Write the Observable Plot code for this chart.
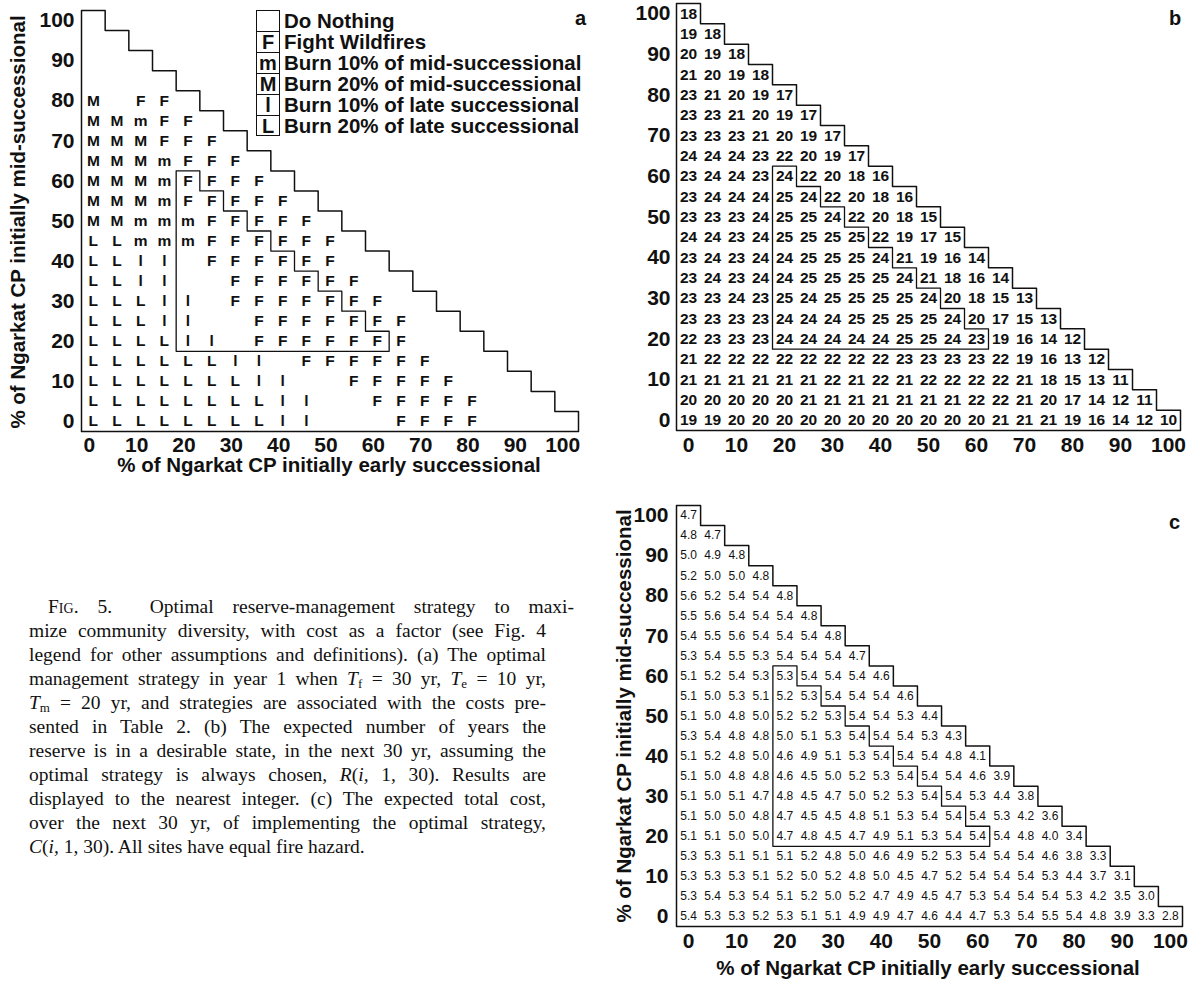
<!DOCTYPE html>
<html><head><meta charset="utf-8">
<script src="https://cdn.jsdelivr.net/npm/d3@7"></script>
<script src="https://cdn.jsdelivr.net/npm/@observablehq/plot@0.6"></script>
<style>
body{margin:0;background:#fff;}
#page{position:relative;width:1195px;height:984px;overflow:hidden;font-family:"Liberation Sans",Arial,Helvetica,sans-serif;color:#111;background:#fff;}
.abs{position:absolute;}
.title{font-weight:bold;font-size:20.5px;white-space:nowrap;line-height:22px;}
.plabel{font-weight:bold;font-size:20px;line-height:20px;}
.cap{font-family:"Liberation Serif","Times New Roman",serif;font-size:19.5px;line-height:24px;color:#111;}
.cap .ln{white-space:nowrap;}
.sub{font-size:13px;vertical-align:-3px;line-height:0;font-style:normal;}
.lgbox{position:absolute;border:1.4px solid #111;box-sizing:border-box;font-weight:bold;font-size:20px;text-align:center;}
.lgtext{position:absolute;font-weight:bold;font-size:20.5px;white-space:nowrap;line-height:21px;}
</style></head>
<body><div id="page"></div>
<script>
// ---------------- data ----------------
const xs = [0,5,10,15,20,25,30,35,40,45,50,55,60,65,70,75,80,85,90,95,100];
const ys = [100,95,90,85,80,75,70,65,60,55,50,45,40,35,30,25,20,15,10,5,0];
const tickValues = [0,10,20,30,40,50,60,70,80,90,100];
const total = 100;          // x + y <= total
const desirableLow = 20;    // desirable region: x >= 20, y >= 20
const desirableSum = 80;    // and x + y <= 80
const halfCell = 2.5;

const legendCodes = ["", "F", "m", "M", "l", "L"];
const legendLabels = ["Do Nothing", "Fight Wildfires", "Burn 10% of mid-successional",
  "Burn 20% of mid-successional", "Burn 10% of late successional", "Burn 20% of late successional"];

// Panel a: strategy, rows y = 100..0, columns x = 0..
const strategy = [
 [""],
 ["",""],
 ["","",""],
 ["","","",""],
 ["M","","F","F",""],
 ["M","M","m","F","F",""],
 ["M","M","M","F","F","F",""],
 ["M","M","M","m","F","F","F",""],
 ["M","M","M","m","F","F","F","F",""],
 ["M","M","M","m","F","F","F","F","F",""],
 ["M","M","m","m","m","F","F","F","F","F",""],
 ["L","L","m","m","m","F","F","F","F","F","F",""],
 ["L","L","l","l","","F","F","F","F","F","F","",""],
 ["L","L","l","l","","","F","F","F","F","F","F","",""],
 ["L","L","L","l","l","","F","F","F","F","F","F","F","",""],
 ["L","L","L","l","l","","","F","F","F","F","F","F","F","",""],
 ["L","L","L","L","l","l","","F","F","F","F","F","F","F","","",""],
 ["L","L","L","L","L","L","l","l","","F","F","F","F","F","F","","",""],
 ["L","L","L","L","L","L","L","l","l","","","F","F","F","F","F","","",""],
 ["L","L","L","L","L","L","L","L","l","l","","","F","F","F","F","F","","",""],
 ["L","L","L","L","L","L","L","L","l","l","","","","F","F","F","F","","","",""]
];

// Panel b: expected years in desirable state
const years = [
 [18],
 [19,18],
 [20,19,18],
 [21,20,19,18],
 [23,21,20,19,17],
 [23,23,21,20,19,17],
 [23,23,23,21,20,19,17],
 [24,24,24,23,22,20,19,17],
 [23,24,24,23,24,22,20,18,16],
 [23,24,24,24,25,24,22,20,18,16],
 [23,23,23,24,25,25,24,22,20,18,15],
 [24,24,23,24,25,25,25,25,22,19,17,15],
 [23,24,23,24,24,25,25,25,24,21,19,16,14],
 [23,24,23,24,24,25,25,25,25,24,21,18,16,14],
 [23,23,24,23,25,24,25,25,25,25,24,20,18,15,13],
 [23,23,23,23,24,24,24,25,25,25,25,24,20,17,15,13],
 [22,23,23,23,24,24,24,24,24,25,25,24,23,19,16,14,12],
 [21,22,22,22,22,22,22,22,22,23,23,23,23,22,19,16,13,12],
 [21,21,21,21,21,21,22,21,22,21,22,22,22,22,21,18,15,13,11],
 [20,20,20,20,20,21,21,21,21,21,21,21,22,22,21,20,17,14,12,11],
 [19,19,20,20,20,20,20,20,20,20,20,20,20,21,21,21,19,16,14,12,10]
];

// Panel c: expected total cost
const cost = [
 [4.7],
 [4.8,4.7],
 [5.0,4.9,4.8],
 [5.2,5.0,5.0,4.8],
 [5.6,5.2,5.4,5.4,4.8],
 [5.5,5.6,5.4,5.4,5.4,4.8],
 [5.4,5.5,5.6,5.4,5.4,5.4,4.8],
 [5.3,5.4,5.5,5.3,5.4,5.4,5.4,4.7],
 [5.1,5.2,5.4,5.3,5.3,5.4,5.4,5.4,4.6],
 [5.1,5.0,5.3,5.1,5.2,5.3,5.4,5.4,5.4,4.6],
 [5.1,5.0,4.8,5.0,5.2,5.2,5.3,5.4,5.4,5.3,4.4],
 [5.3,5.4,4.8,4.8,5.0,5.1,5.3,5.4,5.4,5.4,5.3,4.3],
 [5.1,5.2,4.8,5.0,4.6,4.9,5.1,5.3,5.4,5.4,5.4,4.8,4.1],
 [5.1,5.0,4.8,4.8,4.6,4.5,5.0,5.2,5.3,5.4,5.4,5.4,4.6,3.9],
 [5.1,5.0,5.1,4.7,4.8,4.5,4.7,5.0,5.2,5.3,5.4,5.4,5.3,4.4,3.8],
 [5.1,5.0,5.0,4.8,4.7,4.5,4.5,4.8,5.1,5.3,5.4,5.4,5.4,5.3,4.2,3.6],
 [5.1,5.1,5.0,5.0,4.7,4.8,4.5,4.7,4.9,5.1,5.3,5.4,5.4,5.4,4.8,4.0,3.4],
 [5.3,5.3,5.1,5.1,5.1,5.2,4.8,5.0,4.6,4.9,5.2,5.3,5.4,5.4,5.4,4.6,3.8,3.3],
 [5.3,5.3,5.3,5.1,5.2,5.0,5.2,4.8,5.0,4.5,4.7,5.2,5.4,5.4,5.4,5.3,4.4,3.7,3.1],
 [5.3,5.4,5.3,5.4,5.1,5.2,5.0,5.2,4.7,4.9,4.5,4.7,5.3,5.4,5.4,5.4,5.3,4.2,3.5,3.0],
 [5.4,5.3,5.3,5.2,5.3,5.1,5.1,4.9,4.9,4.7,4.6,4.4,4.7,5.3,5.4,5.5,5.4,4.8,3.9,3.3,2.8]
];

// ---------------- helpers ----------------
function cells(grid, fmt) {
  return grid.flatMap((row, i) => row.map((v, j) => ({x: xs[j], y: ys[i], t: fmt(v)})));
}
// staircase outline of region x >= lo, y >= lo, x + y <= sum
function staircase(lo, sum) {
  const pts = [{x: lo - halfCell, y: lo - halfCell}, {x: lo - halfCell, y: sum - lo + halfCell}];
  xs.filter(x => x >= lo && x <= sum - lo).forEach(x => {
    pts.push({x: x + halfCell, y: sum - x + halfCell});
    pts.push({x: x + halfCell, y: sum - x - halfCell});
  });
  pts.push({x: lo - halfCell, y: lo - halfCell});
  return pts;
}
const outer = staircase(0, total);
const inner = staircase(desirableLow, desirableSum);
const domain = [xs[0] - halfCell, xs[xs.length - 1] + halfCell];
const ydomain = [ys[ys.length - 1] - halfCell, ys[0] + halfCell];

function panel({width, height, ml, mr, mt, mb, data, fontSize, fontWeight, xdx, ypad, xpad}) {
  const svg = Plot.plot({
    width, height, marginLeft: ml, marginRight: mr, marginTop: mt, marginBottom: mb,
    style: "font-family:'Liberation Sans',Arial,sans-serif;font-size:21px;font-weight:bold;color:#111;background:transparent;overflow:visible;",
    x: {domain, ticks: tickValues},
    y: {domain: ydomain, ticks: tickValues},
    marks: [
      Plot.axisX({ticks: tickValues, tickSize: 0, tickPadding: xpad, label: null, dx: xdx}),
      Plot.axisY({ticks: tickValues, tickSize: 0, tickPadding: ypad, label: null}),
      Plot.line(outer, {x: "x", y: "y", stroke: "#111", strokeWidth: 1.5}),
      Plot.line(inner, {x: "x", y: "y", stroke: "#111", strokeWidth: 1.3}),
      Plot.text(data, {x: "x", y: "y", text: "t", fontSize, fontWeight, fill: "#111"})
    ]
  });
  svg.querySelectorAll('g[aria-label$="tick label"]').forEach(g => {
    g.setAttribute("font-size", "21");
    g.setAttribute("font-weight", "bold");
    g.style.fontSize = "21px";
    g.style.fontWeight = "bold";
    g.setAttribute("fill", "#111");
  });
  return svg;
}

const page = document.getElementById("page");
function place(el, left, top) {
  const d = document.createElement("div");
  d.className = "abs"; d.style.left = left + "px"; d.style.top = top + "px";
  d.appendChild(el); page.appendChild(d); return d;
}

// Panel a
place(panel({width: 600, height: 460, ml: 81, mr: 22, mt: 10, mb: 29,
  data: cells(strategy, v => v), fontSize: 15.5, fontWeight: "bold", xdx: -4, ypad: 7, xpad: 6}), 0, 0);
// Panel b
place(panel({width: 595, height: 460, ml: 76, mr: 15, mt: 3, mb: 30,
  data: cells(years, v => String(v)), fontSize: 15.5, fontWeight: "bold", xdx: 0, ypad: 6, xpad: 7}), 600, 0);
// Panel c
place(panel({width: 595, height: 480, ml: 76, mr: 13, mt: 25, mb: 34,
  data: cells(cost, v => v.toFixed(1)), fontSize: 12, fontWeight: "normal", xdx: 0, ypad: 8, xpad: 7}), 600, 480);

// Axis titles and panel labels
function html(s, cls, style) {
  const d = document.createElement("div"); d.className = "abs " + cls; d.setAttribute("style", style);
  d.innerHTML = s; page.appendChild(d); return d;
}
html("% of Ngarkat CP initially early successional", "title", "left:329px;top:454px;transform:translateX(-50%);");
html("% of Ngarkat CP initially mid-successional", "title", "left:18px;top:222px;transform:translate(-50%,-50%) rotate(-90deg);");
html("% of Ngarkat CP initially early successional", "title", "left:928px;top:957px;transform:translateX(-50%);");
html("% of Ngarkat CP initially mid-successional", "title", "left:624px;top:716px;transform:translate(-50%,-50%) rotate(-90deg);");
html("a", "plabel", "left:575px;top:8px;");
html("b", "plabel", "left:1169px;top:8px;");
html("c", "plabel", "left:1169px;top:512px;");

// Legend (panel a)
legendCodes.forEach((code, i) => {
  const top = 10 + i * 21;
  html(code, "lgbox", `left:256px;top:${top}px;width:24px;height:${i < legendCodes.length - 1 ? 22.4 : 21}px;line-height:20px;`);
  html(legendLabels[i], "lgtext", `left:284px;top:${top}px;`);
});

// Caption
const capLines = [
 `F<span style="font-variant:small-caps">ig</span>. 5.&nbsp;&nbsp;Optimal reserve-management strategy to maxi-`,
 `mize community diversity, with cost as a factor (see Fig. 4`,
 `legend for other assumptions and definitions). (a) The optimal`,
 `management strategy in year 1 when <i>T<span class="sub">f</span></i> = 30 yr, <i>T<span class="sub">e</span></i> = 10 yr,`,
 `<i>T<span class="sub">m</span></i> = 20 yr, and strategies are associated with the costs pre-`,
 `sented in Table 2. (b) The expected number of years the`,
 `reserve is in a desirable state, in the next 30 yr, assuming the`,
 `optimal strategy is always chosen, <i>R</i>(<i>i,</i> 1, 30). Results are`,
 `displayed to the nearest integer. (c) The expected total cost,`,
 `over the next 30 yr, of implementing the optimal strategy,`,
 `<i>C</i>(<i>i,</i> 1, 30). All sites have equal fire hazard.`
];
const capW = 517;
const cap = html("", "cap", `left:29px;top:595px;width:${capW}px;`);
capLines.forEach((s, i) => {
  const ln = document.createElement("div");
  ln.className = "ln";
  const sp = document.createElement("span");
  sp.innerHTML = s;
  ln.appendChild(sp);
  cap.appendChild(ln);
  const indent = i === 0 ? 19 : 0;
  ln.style.paddingLeft = indent + "px";
  if (i < capLines.length - 1) {
    const natural = sp.getBoundingClientRect().width;
    const gaps = (sp.textContent.match(/ /g) || []).length;
    if (gaps > 0) ln.style.wordSpacing = ((capW - indent - natural) / gaps) + "px";
  }
});
</script></body></html>
